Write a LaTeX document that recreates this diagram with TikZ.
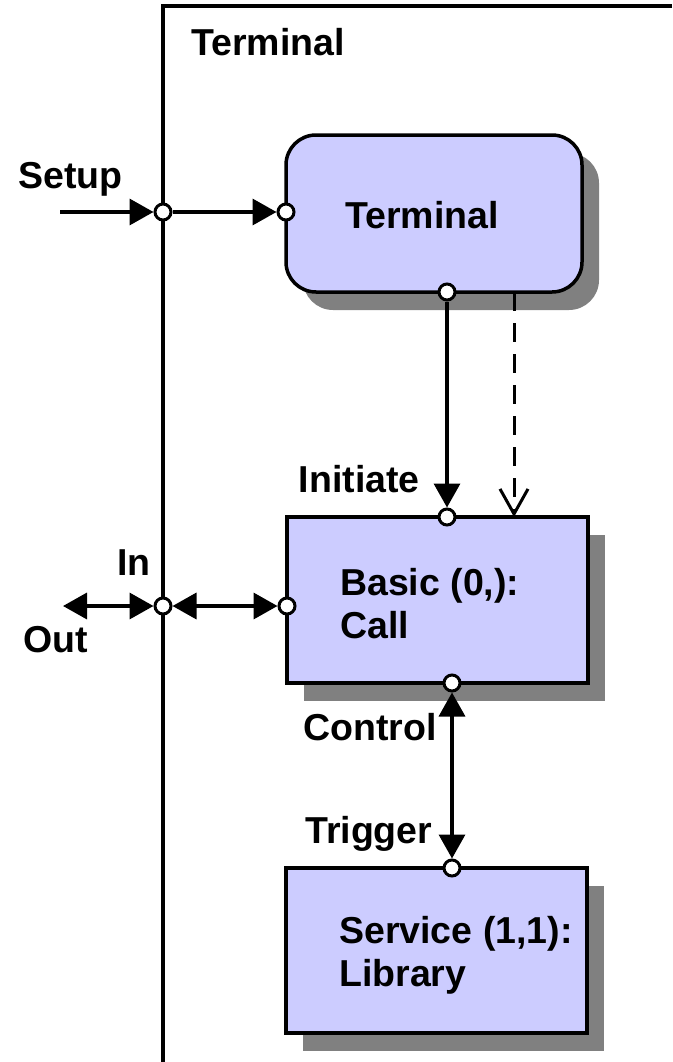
\documentclass[tikz,border=0pt]{standalone}
\usepackage{fontspec}
\setmainfont{Liberation Sans}
\usetikzlibrary{arrows.meta,shadows}

\definecolor{boxblue}{RGB}{204,204,255}
\definecolor{shadowgray}{RGB}{128,128,128}

\begin{document}
\begin{tikzpicture}[x=1pt, y=-1pt,
    txt/.style={font=\fontsize{37.5}{43}\selectfont\bfseries, inner sep=0pt},
    block/.style={draw, line width=3.5pt, fill=boxblue, inner sep=0pt,
        drop shadow={shadow xshift=17pt, shadow yshift=-18pt, opacity=1, fill=shadowgray}},
    port/.style={circle, draw, line width=3pt, fill=white, minimum size=16pt, inner sep=0pt},
    sig/.style={line width=3.5pt, -{Triangle[length=24pt, width=26pt]}},
    bisig/.style={line width=3.5pt, {Triangle[length=24pt, width=26pt]}-{Triangle[length=24pt, width=26pt]}},
    dsig/.style={line width=3pt, dash pattern=on 19pt off 12pt, -{Straight Barb[length=25pt, width=28pt]}}]
    \useasboundingbox (0,0) rectangle (672,1062);

    % frame of the terminal
    \draw[line width=4.5pt] (672,6) -| (163,1062);
    \node[txt, anchor=base west] (frameLbl) at (191,56) {Terminal};

    % blocks
    \node[block, rounded corners=30pt, minimum width=296pt, minimum height=157pt] (term) at (434,213.5) {};
    \node[block, minimum width=301pt, minimum height=166pt] (basic) at (437.5,600) {};
    \node[block, minimum width=301pt, minimum height=165pt] (serv) at (436.5,950.5) {};
    \node[txt, anchor=base west] (termTxt) at (345,228) {Terminal};
    \node[txt, anchor=base west, align=left] (basicTxt) at (340,638) {Basic (0,):\\Call};
    \node[txt, anchor=base west, align=left] (servTxt) at (339,986) {Service (1,1):\\Library};

    % ports
    \node[port] (fsetup) at (163,212) {};
    \node[port] (tin)    at (286,212) {};
    \node[port] (tout)   at (447,292) {};
    \node[port] (binit)  at (447,517) {};
    \node[port] (fio)    at (163,606) {};
    \node[port] (bio)    at (287,606) {};
    \node[port] (bctl)   at (452,683) {};
    \node[port] (strig)  at (452,868) {};
    \coordinate (setupin) at (60,212);
    \coordinate (outend)  at (63,606);
    \coordinate (tdash)   at (514,292);
    \coordinate (bdash)   at (514,517);

    % connectors
    \draw[sig] (setupin) -- (fsetup);
    \draw[sig] (fsetup) -- (tin);
    \draw[sig] (tout) -- (binit);
    \draw[dsig] (tdash) -- (bdash);
    \draw[bisig] (outend) -- (fio);
    \draw[bisig] (fio) -- (bio);
    \draw[bisig] (bctl) -- (strig);

    % labels
    \node[txt, anchor=base west] (setupLbl) at (18,188)  {Setup};
    \node[txt, anchor=base west] (inLbl)    at (117,575) {In};
    \node[txt, anchor=base west] (outLbl)   at (23,652)  {Out};
    \node[txt, anchor=base east] (initLbl)  at (420,492) {Initiate};
    \node[txt, anchor=base west] (ctlLbl)   at (303,740) {Control};
    \node[txt, anchor=base west] (trigLbl)  at (305,843) {Trigger};
\end{tikzpicture}
\end{document}
